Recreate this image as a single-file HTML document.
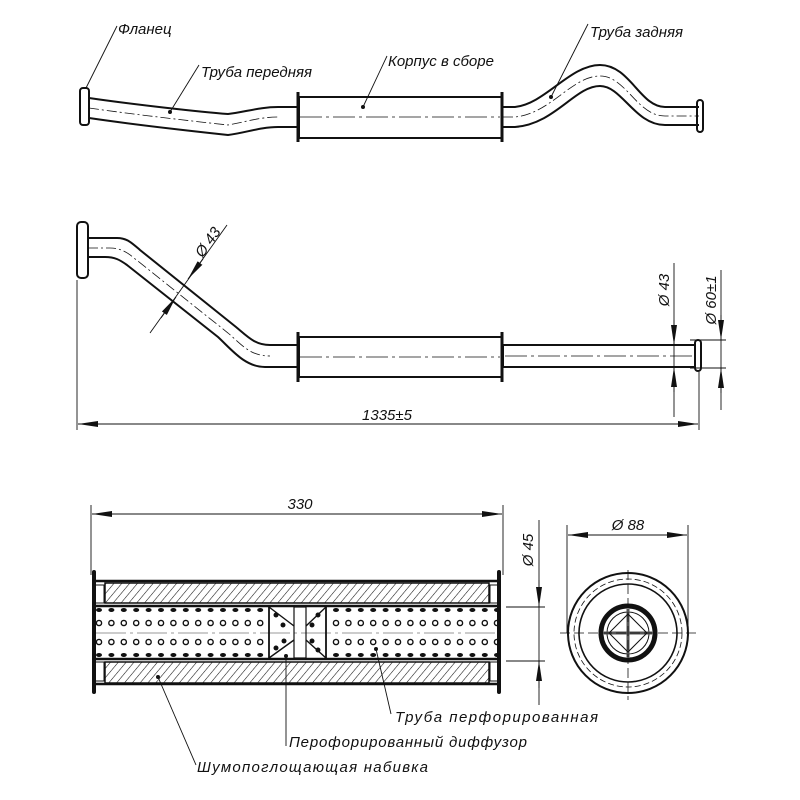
<!DOCTYPE html>
<html><head><meta charset="utf-8"><style>
html,body{margin:0;padding:0;background:#fff;}
svg{display:block;}
text{font-family:"Liberation Sans",sans-serif;font-style:italic;fill:#111;}
</style></head><body>
<svg width="800" height="800" viewBox="0 0 800 800" xmlns="http://www.w3.org/2000/svg">
<defs>
<marker id="a" viewBox="0 0 20 8" refX="20" refY="4" markerWidth="20" markerHeight="8" markerUnits="userSpaceOnUse" orient="auto-start-reverse"><path d="M0,1 L20,4 L0,7 Z" fill="#111"/></marker>
<pattern id="h" width="6" height="6" patternUnits="userSpaceOnUse" patternTransform="rotate(40)"><line x1="0" y1="0" x2="0" y2="6" stroke="#111" stroke-width="1.1"/></pattern>
</defs>
<g fill="none" stroke="#111">
<!-- TOP VIEW -->
<path d="M89,98 C130,104 200,112 228,114 C245,112 260,107 278,107 L298,107" stroke-width="2"/>
<path d="M89,118 C130,124 200,132 228,135 C245,133 260,127 278,127 L298,127" stroke-width="2"/>
<path d="M89,108 C130,114 200,122 228,125 C245,122 260,117 278,117" stroke-width="0.8" stroke-dasharray="10,3,2,3"/>
<rect x="80" y="88" width="9" height="37" rx="3" stroke-width="2"/>
<rect x="299" y="97" width="203" height="41" stroke-width="2"/>
<line x1="298" y1="92" x2="298" y2="142" stroke-width="3"/>
<line x1="502" y1="92" x2="502" y2="142" stroke-width="3"/>
<line x1="300" y1="117" x2="500" y2="117" stroke-width="0.8" stroke-dasharray="22,4,3,4"/>
<path d="M503,107 L515,107 C545,104 570,65 600,65 C630,65 640,107 665,107 L699,107" stroke-width="2"/>
<path d="M503,127 L515,127 C555,124 575,86 600,86 C622,86 635,125 665,125 L699,125" stroke-width="2"/>
<path d="M503,117 L515,117 C550,114 572,76 600,76 C626,76 637,116 665,116 L699,116" stroke-width="0.8" stroke-dasharray="10,3,2,3"/>
<rect x="697" y="100" width="6" height="32" rx="3" stroke-width="2"/>
<!-- leaders top -->
<line x1="117" y1="26" x2="86" y2="88" stroke-width="0.9"/>
<line x1="199" y1="65" x2="170" y2="112" stroke-width="0.9"/>
<line x1="387" y1="56" x2="363" y2="107" stroke-width="0.9"/>
<line x1="588" y1="24" x2="551" y2="97" stroke-width="0.9"/>
</g>
<g fill="#111"><circle cx="170" cy="112" r="2"/><circle cx="363" cy="107" r="2"/><circle cx="551" cy="97" r="2"/></g>
<text x="118" y="34" font-size="15">Фланец</text>
<text x="201" y="77" font-size="15">Труба передняя</text>
<text x="388" y="66" font-size="15">Корпус в сборе</text>
<text x="590" y="37" font-size="15">Труба задняя</text>

<!-- SECOND VIEW -->
<g fill="none" stroke="#111">
<path d="M88,238 L117,238 C127,238 132,243 140,250 L236,327 C248,337 255,345 270,345 L298,345" stroke-width="2"/>
<path d="M88,257 L105,257 C115,257 120,260 127,265 L218,337 C232,350 245,367 265,367 L298,367" stroke-width="2"/>
<path d="M88,248 L110,248 C120,248 127,252 134,258 L228,333 C242,345 250,356 270,356" stroke-width="0.8" stroke-dasharray="10,3,2,3"/>
<rect x="77" y="222" width="11" height="56" rx="4" stroke-width="2"/>
<rect x="299" y="337" width="203" height="40" stroke-width="2"/>
<line x1="298" y1="332" x2="298" y2="382" stroke-width="3"/>
<line x1="502" y1="332" x2="502" y2="382" stroke-width="3"/>
<line x1="300" y1="357" x2="500" y2="357" stroke-width="0.8" stroke-dasharray="22,4,3,4"/>
<rect x="503" y="345" width="192" height="22" stroke-width="2"/>
<line x1="505" y1="356" x2="695" y2="356" stroke-width="0.8" stroke-dasharray="22,4,3,4"/>
<rect x="695" y="340" width="6" height="31" rx="3" stroke-width="2"/>
<!-- dims -->
<line x1="77" y1="280" x2="77" y2="430" stroke-width="0.9"/>
<line x1="699" y1="372" x2="699" y2="430" stroke-width="0.9"/>
<line x1="78" y1="424" x2="698" y2="424" stroke-width="0.9" marker-start="url(#a)" marker-end="url(#a)"/>
<line x1="674" y1="263" x2="674" y2="417" stroke-width="0.9"/>
<line x1="674" y1="320" x2="674" y2="345" stroke-width="0.9" marker-end="url(#a)"/>
<line x1="674" y1="392" x2="674" y2="367" stroke-width="0.9" marker-end="url(#a)"/>
<line x1="690" y1="340" x2="726" y2="340" stroke-width="0.9"/>
<line x1="690" y1="368" x2="726" y2="368" stroke-width="0.9"/>
<line x1="721" y1="270" x2="721" y2="410" stroke-width="0.9"/>
<line x1="721" y1="315" x2="721" y2="340" stroke-width="0.9" marker-end="url(#a)"/>
<line x1="721" y1="393" x2="721" y2="368" stroke-width="0.9" marker-end="url(#a)"/>
<line x1="150" y1="333" x2="227" y2="225" stroke-width="0.9"/>
<line x1="161" y1="318" x2="176" y2="297" stroke-width="0.9" marker-end="url(#a)"/>
<line x1="203" y1="259" x2="188" y2="279" stroke-width="0.9" marker-end="url(#a)"/>
</g>
<text x="387" y="420" font-size="15" text-anchor="middle">1335±5</text>
<text transform="translate(669,290) rotate(-90)" font-size="15" text-anchor="middle">Ø 43</text>
<text transform="translate(716,300) rotate(-90)" font-size="15" text-anchor="middle">Ø 60±1</text>
<text transform="translate(212,245) rotate(-55)" font-size="15" text-anchor="middle">Ø 43</text>

<!-- SECTION -->
<g fill="none" stroke="#111">
<line x1="91" y1="505" x2="91" y2="575" stroke-width="0.9"/>
<line x1="503" y1="505" x2="503" y2="575" stroke-width="0.9"/>
<line x1="92" y1="514" x2="502" y2="514" stroke-width="0.9" marker-start="url(#a)" marker-end="url(#a)"/>
<rect x="105" y="583" width="384" height="20" fill="url(#h)" stroke-width="1.5"/>
<rect x="105" y="662" width="384" height="21" fill="url(#h)" stroke-width="1.5"/>
<line x1="94" y1="581" x2="499" y2="581" stroke-width="2.5"/>
<line x1="94" y1="684" x2="499" y2="684" stroke-width="2.5"/>
<line x1="94" y1="606" x2="499" y2="606" stroke-width="2.5"/>
<line x1="94" y1="659" x2="499" y2="659" stroke-width="2.5"/>
<rect x="94" y="585" width="10" height="18" stroke-width="1"/>
<rect x="94" y="662" width="10" height="19" stroke-width="1"/>
<rect x="490" y="585" width="9" height="18" stroke-width="1"/>
<rect x="490" y="662" width="9" height="19" stroke-width="1"/>
<line x1="94" y1="572" x2="94" y2="692" stroke-width="4" stroke-linecap="round"/>
<line x1="499" y1="572" x2="499" y2="692" stroke-width="4" stroke-linecap="round"/>
<line x1="96" y1="633" x2="498" y2="633" stroke-width="0.8" stroke="#777" stroke-dasharray="30,4,3,4"/>
<!-- diffuser -->
<line x1="269" y1="607" x2="269" y2="658" stroke-width="1.8"/>
<line x1="326" y1="607" x2="326" y2="658" stroke-width="1.8"/>
<rect x="294" y="607" width="12" height="51" stroke-width="1.2"/>
<path d="M269,607 L294,626 M269,658 L294,640 M326,607 L306,626 M326,658 L306,640" stroke-width="1.4"/>
<!-- dims Ø45 -->
<line x1="506" y1="607" x2="545" y2="607" stroke-width="0.9"/>
<line x1="506" y1="661" x2="545" y2="661" stroke-width="0.9"/>
<line x1="539" y1="520" x2="539" y2="705" stroke-width="0.9"/>
<line x1="539" y1="580" x2="539" y2="607" stroke-width="0.9" marker-end="url(#a)"/>
<line x1="539" y1="688" x2="539" y2="661" stroke-width="0.9" marker-end="url(#a)"/>
<!-- end view -->
<line x1="567" y1="525" x2="567" y2="633" stroke-width="0.9"/>
<line x1="688" y1="525" x2="688" y2="633" stroke-width="0.9"/>
<line x1="568" y1="535" x2="687" y2="535" stroke-width="0.9" marker-start="url(#a)" marker-end="url(#a)"/>
<circle cx="628" cy="633" r="60" stroke-width="2"/>
<circle cx="628" cy="633" r="54" stroke-width="0.8" stroke-dasharray="6,3"/>
<circle cx="628" cy="633" r="49" stroke-width="1.6"/>
<circle cx="628" cy="633" r="27" stroke-width="5"/>
<circle cx="628" cy="633" r="21" stroke-width="1"/>
<line x1="604" y1="633" x2="652" y2="633" stroke-width="3" stroke="#555"/>
<line x1="628" y1="609" x2="628" y2="657" stroke-width="3" stroke="#555"/>
<path d="M628,614 L647,633 L628,652 L609,633 Z" stroke-width="1"/>
<line x1="560" y1="633" x2="696" y2="633" stroke-width="0.8" stroke-dasharray="10,4"/>
<line x1="628" y1="570" x2="628" y2="700" stroke-width="0.8" stroke-dasharray="10,4"/>
<!-- leaders -->
<line x1="376" y1="649" x2="391" y2="714" stroke-width="0.9"/>
<line x1="286" y1="656" x2="286" y2="746" stroke-width="0.9"/>
<line x1="158" y1="677" x2="196" y2="765" stroke-width="0.9"/>
</g>
<g stroke="#111" stroke-width="1.4" fill="none">
<g id="rowL">
<circle cx="99" cy="623" r="2.6"/><circle cx="111.4" cy="623" r="2.6"/><circle cx="123.8" cy="623" r="2.6"/><circle cx="136.2" cy="623" r="2.6"/><circle cx="148.6" cy="623" r="2.6"/><circle cx="161" cy="623" r="2.6"/><circle cx="173.4" cy="623" r="2.6"/><circle cx="185.8" cy="623" r="2.6"/><circle cx="198.2" cy="623" r="2.6"/><circle cx="210.6" cy="623" r="2.6"/><circle cx="223" cy="623" r="2.6"/><circle cx="235.4" cy="623" r="2.6"/><circle cx="247.8" cy="623" r="2.6"/><circle cx="260.2" cy="623" r="2.6"/>
<circle cx="336" cy="623" r="2.6"/><circle cx="348.4" cy="623" r="2.6"/><circle cx="360.8" cy="623" r="2.6"/><circle cx="373.2" cy="623" r="2.6"/><circle cx="385.6" cy="623" r="2.6"/><circle cx="398" cy="623" r="2.6"/><circle cx="410.4" cy="623" r="2.6"/><circle cx="422.8" cy="623" r="2.6"/><circle cx="435.2" cy="623" r="2.6"/><circle cx="447.6" cy="623" r="2.6"/><circle cx="460" cy="623" r="2.6"/><circle cx="472.4" cy="623" r="2.6"/><circle cx="484.8" cy="623" r="2.6"/><circle cx="497" cy="623" r="2.6"/>
</g>
<use href="#rowL" y="19"/>
</g>
<g fill="#111">
<g id="rowF">
<ellipse cx="99" cy="610" rx="3" ry="2"/><ellipse cx="111.4" cy="610" rx="3" ry="2"/><ellipse cx="123.8" cy="610" rx="3" ry="2"/><ellipse cx="136.2" cy="610" rx="3" ry="2"/><ellipse cx="148.6" cy="610" rx="3" ry="2"/><ellipse cx="161" cy="610" rx="3" ry="2"/><ellipse cx="173.4" cy="610" rx="3" ry="2"/><ellipse cx="185.8" cy="610" rx="3" ry="2"/><ellipse cx="198.2" cy="610" rx="3" ry="2"/><ellipse cx="210.6" cy="610" rx="3" ry="2"/><ellipse cx="223" cy="610" rx="3" ry="2"/><ellipse cx="235.4" cy="610" rx="3" ry="2"/><ellipse cx="247.8" cy="610" rx="3" ry="2"/><ellipse cx="260.2" cy="610" rx="3" ry="2"/>
<ellipse cx="336" cy="610" rx="3" ry="2"/><ellipse cx="348.4" cy="610" rx="3" ry="2"/><ellipse cx="360.8" cy="610" rx="3" ry="2"/><ellipse cx="373.2" cy="610" rx="3" ry="2"/><ellipse cx="385.6" cy="610" rx="3" ry="2"/><ellipse cx="398" cy="610" rx="3" ry="2"/><ellipse cx="410.4" cy="610" rx="3" ry="2"/><ellipse cx="422.8" cy="610" rx="3" ry="2"/><ellipse cx="435.2" cy="610" rx="3" ry="2"/><ellipse cx="447.6" cy="610" rx="3" ry="2"/><ellipse cx="460" cy="610" rx="3" ry="2"/><ellipse cx="472.4" cy="610" rx="3" ry="2"/><ellipse cx="484.8" cy="610" rx="3" ry="2"/><ellipse cx="497" cy="610" rx="3" ry="2"/>
</g>
<use href="#rowF" y="45"/>
<circle cx="276" cy="615" r="2.5"/><circle cx="283" cy="625" r="2.5"/><circle cx="276" cy="648" r="2.5"/><circle cx="284" cy="641" r="2.5"/>
<circle cx="318" cy="615" r="2.5"/><circle cx="312" cy="625" r="2.5"/><circle cx="318" cy="650" r="2.5"/><circle cx="312" cy="641" r="2.5"/>
<circle cx="376" cy="649" r="2"/><circle cx="286" cy="656" r="2"/><circle cx="158" cy="677" r="2"/>
</g>
<text x="300" y="509" font-size="15" text-anchor="middle">330</text>
<text transform="translate(533,550) rotate(-90)" font-size="15" text-anchor="middle">Ø 45</text>
<text x="628" y="530" font-size="15" text-anchor="middle">Ø 88</text>
<text x="395" y="722" font-size="15" textLength="203">Труба перфорированная</text>
<text x="289" y="747" font-size="15" textLength="238">Перофорированный диффузор</text>
<text x="197" y="772" font-size="15" textLength="231">Шумопоглощающая набивка</text>
</svg>
</body></html>
